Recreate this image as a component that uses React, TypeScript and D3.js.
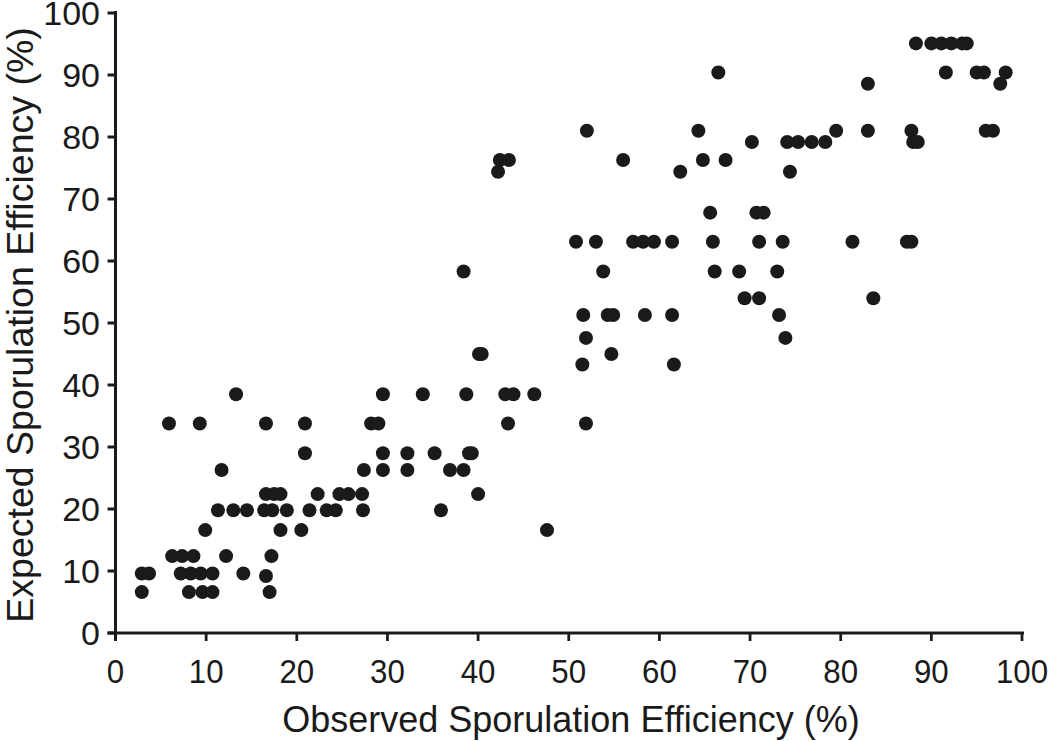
import React from 'react';
import * as d3 from 'd3';

// observed vs expected sporulation efficiency (%), one entry per strain
const observed = [
  2.9, 8.1, 9.6, 10.7, 17.0,
  2.9, 3.7, 7.2, 8.3, 9.4, 10.7, 14.1, 16.6,
  6.25, 7.35, 8.6, 12.2, 17.2,
  9.9, 18.2, 20.5, 47.6,
  11.3, 13.0, 14.5, 16.4, 17.3, 18.9, 21.4, 23.3, 24.3, 27.3, 35.9,
  16.6, 17.5, 18.2, 22.3, 24.7, 25.7, 27.2, 40.0,
  11.7, 27.4, 29.5, 32.2, 36.9, 38.4,
  20.9, 29.5, 32.2, 35.2, 39.0, 39.3,
  5.9, 9.3, 16.6, 20.9, 28.2, 29.0, 43.3, 51.9,
  13.3, 29.5, 33.9, 38.7, 43.0, 43.9, 46.2,
  51.5, 61.6,
  40.1, 40.4, 54.7,
  51.9, 73.9,
  51.6, 54.3, 54.9, 58.4, 61.4, 73.2,
  69.4, 71.0, 83.6,
  38.4, 53.8, 66.1, 68.8, 73.0,
  50.8, 53.0, 57.1, 58.2, 59.4, 61.4, 65.9, 71.0, 73.6, 81.3, 87.3, 87.8,
  65.6, 70.7, 71.5,
  42.2, 62.3, 74.4,
  42.4, 43.4, 56.0, 64.8, 67.3,
  70.2, 74.1, 75.3, 76.8, 78.3, 88.0, 88.5,
  52.0, 64.3, 79.5, 83.0, 87.8, 96.0, 96.8,
  83.0, 97.6,
  66.5, 91.6, 95.0, 95.8, 98.2,
  88.3, 90.0, 91.1, 92.2, 93.4, 93.9
];

const expected = [
  6.6, 6.6, 6.6, 6.6, 6.6,
  9.6, 9.6, 9.6, 9.6, 9.6, 9.6, 9.6, 9.2,
  12.4, 12.4, 12.4, 12.4, 12.4,
  16.6, 16.6, 16.6, 16.6,
  19.8, 19.8, 19.8, 19.8, 19.8, 19.8, 19.8, 19.8, 19.8, 19.8, 19.8,
  22.4, 22.4, 22.4, 22.4, 22.4, 22.4, 22.4, 22.4,
  26.3, 26.3, 26.3, 26.3, 26.3, 26.3,
  29.0, 29.0, 29.0, 29.0, 29.0, 29.0,
  33.8, 33.8, 33.8, 33.8, 33.8, 33.8, 33.8, 33.8,
  38.5, 38.5, 38.5, 38.5, 38.5, 38.5, 38.5,
  43.3, 43.3,
  45.0, 45.0, 45.0,
  47.6, 47.6,
  51.3, 51.3, 51.3, 51.3, 51.3, 51.3,
  54.0, 54.0, 54.0,
  58.3, 58.3, 58.3, 58.3, 58.3,
  63.1, 63.1, 63.1, 63.1, 63.1, 63.1, 63.1, 63.1, 63.1, 63.1, 63.1, 63.1,
  67.8, 67.8, 67.8,
  74.4, 74.4, 74.4,
  76.3, 76.3, 76.3, 76.3, 76.3,
  79.2, 79.2, 79.2, 79.2, 79.2, 79.2, 79.2,
  81.0, 81.0, 81.0, 81.0, 81.0, 81.0, 81.0,
  88.6, 88.6,
  90.4, 90.4, 90.4, 90.4, 90.4,
  95.1, 95.1, 95.1, 95.1, 95.1, 95.1
];

const xTicks = [0, 10, 20, 30, 40, 50, 60, 70, 80, 90, 100];
const yTicks = [0, 10, 20, 30, 40, 50, 60, 70, 80, 90, 100];

const xTitle = 'Observed Sporulation Efficiency (%)';
const yTitle = 'Expected Sporulation Efficiency (%)';

export default function App() {
  const width = 1050;
  const height = 741;
  const font = '"Liberation Sans", Arial, sans-serif';
  const ink = '#1a1a1a';

  const x = d3.scaleLinear().domain([0, 100]).range([115.5, 1022]);
  const y = d3.scaleLinear().domain([0, 100]).range([633, 13]);

  const points = observed.map((d, i) => (
    <circle key={i} cx={x(d)} cy={y(expected[i])} r={7} fill={ink} />
  ));

  return (
    <svg width={width} height={height}
         style={{ position: 'absolute', left: 0, top: 0, background: '#fff' }}>
      <rect width={width} height={height} fill="#fff" />

      {/* axes */}
      <line x1={x(0)} x2={x(0)} y1={y(100) - 2} y2={y(0) + 8} stroke={ink} strokeWidth={3} />
      <line x1={x(0) - 8} x2={x(100) + 2} y1={y(0)} y2={y(0)} stroke={ink} strokeWidth={3} />

      {yTicks.map(t => (
        <g key={'y' + t}>
          <line x1={x(0) - 8} x2={x(0)} y1={y(t)} y2={y(t)} stroke={ink} strokeWidth={3} />
          <text x={100} y={y(t) + 12} textAnchor="end"
                fontFamily={font} fontSize={34} fill={ink}>{t}</text>
        </g>
      ))}

      {xTicks.map(t => (
        <g key={'x' + t} transform={`translate(${x(t)},683) scale(0.92,1)`}>
          <line x1={0} x2={0} y1={-50} y2={-42} stroke={ink} strokeWidth={3} />
          <text x={0} y={0} textAnchor="middle"
                fontFamily={font} fontSize={34} fill={ink}>{t}</text>
        </g>
      ))}

      {points}

      <text x={571} y={732} textAnchor="middle" fontFamily={font} fontSize={36} fill={ink}>
        {xTitle}
      </text>
      <text transform="translate(33,325) rotate(-90)" textAnchor="middle"
            fontFamily={font} fontSize={37.5} fill={ink}>
        {yTitle}
      </text>
    </svg>
  );
}
